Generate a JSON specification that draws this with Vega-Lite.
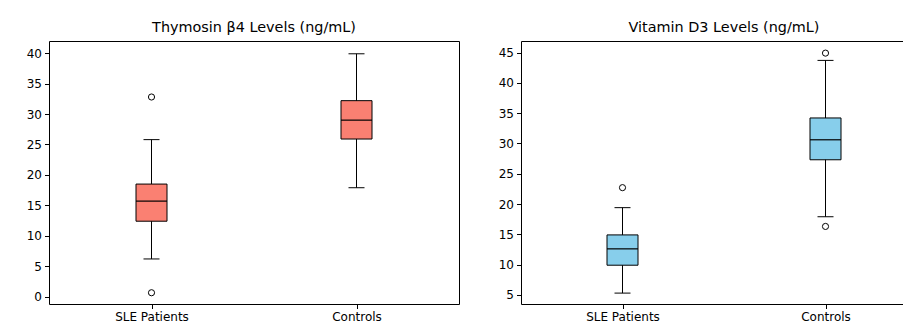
{
  "$schema": "https://vega.github.io/schema/vega-lite/v6.json",
  "background": "white",
  "padding": {"left": 25, "top": 19, "right": 1, "bottom": 1},
  "spacing": 37,
  "datasets": {
    "boxes": [
      {"panel": "Thymosin", "group": "SLE Patients", "lower": 6.2, "q1": 12.4, "median": 15.7, "q3": 18.5, "upper": 25.8},
      {"panel": "Thymosin", "group": "Controls", "lower": 17.9, "q1": 25.9, "median": 29.0, "q3": 32.2, "upper": 39.9},
      {"panel": "VitD", "group": "SLE Patients", "lower": 5.3, "q1": 9.9, "median": 12.6, "q3": 14.9, "upper": 19.4},
      {"panel": "VitD", "group": "Controls", "lower": 17.9, "q1": 27.3, "median": 30.6, "q3": 34.2, "upper": 43.7}
    ],
    "outliers": [
      {"panel": "Thymosin", "group": "SLE Patients", "value": 32.8},
      {"panel": "Thymosin", "group": "SLE Patients", "value": 0.65},
      {"panel": "VitD", "group": "SLE Patients", "value": 22.7},
      {"panel": "VitD", "group": "Controls", "value": 44.9},
      {"panel": "VitD", "group": "Controls", "value": 16.3}
    ]
  },
  "hconcat": [
    {
      "title": "Thymosin β4 Levels (ng/mL)",
      "width": 410,
      "height": 263,
      "encoding": {
        "x": {"field": "group", "type": "nominal", "title": null, "sort": ["SLE Patients", "Controls"],
              "scale": {"type": "point", "padding": 0.5, "domain": ["SLE Patients", "Controls"]},
              "axis": {"labelAngle": 0}}
      },
      "layer": [
        {
          "data": {"name": "boxes"},
          "transform": [{"filter": "datum.panel === 'Thymosin'"}],
          "mark": {"type": "rule", "color": "black", "strokeWidth": 1},
          "encoding": {
            "y": {"field": "lower", "type": "quantitative", "title": null,
                  "scale": {"domain": [-1.2, 42], "nice": false, "zero": false},
                  "axis": {"values": [0, 5, 10, 15, 20, 25, 30, 35, 40], "labelOverlap": false}},
            "y2": {"field": "upper"}
          }
        },
        {
          "data": {"name": "boxes"},
          "transform": [{"filter": "datum.panel === 'Thymosin'"}],
          "mark": {"type": "bar", "width": 31, "fill": "#FA8072", "stroke": "black", "strokeWidth": 1},
          "encoding": {"y": {"field": "q1", "type": "quantitative", "title": null,
                  "scale": {"domain": [-1.2, 42], "nice": false, "zero": false},
                  "axis": {"values": [0, 5, 10, 15, 20, 25, 30, 35, 40], "labelOverlap": false}}, "y2": {"field": "q3"}}
        },
        {
          "data": {"name": "boxes"},
          "transform": [{"filter": "datum.panel === 'Thymosin'"}],
          "mark": {"type": "tick", "size": 31, "thickness": 1.2, "color": "black", "opacity": 1},
          "encoding": {"y": {"field": "median", "type": "quantitative", "title": null,
                  "scale": {"domain": [-1.2, 42], "nice": false, "zero": false},
                  "axis": {"values": [0, 5, 10, 15, 20, 25, 30, 35, 40], "labelOverlap": false}}}
        },
        {
          "data": {"name": "boxes"},
          "transform": [{"filter": "datum.panel === 'Thymosin'"}],
          "mark": {"type": "tick", "size": 16, "thickness": 1, "color": "black", "opacity": 1},
          "encoding": {"y": {"field": "lower", "type": "quantitative", "title": null,
                  "scale": {"domain": [-1.2, 42], "nice": false, "zero": false},
                  "axis": {"values": [0, 5, 10, 15, 20, 25, 30, 35, 40], "labelOverlap": false}}}
        },
        {
          "data": {"name": "boxes"},
          "transform": [{"filter": "datum.panel === 'Thymosin'"}],
          "mark": {"type": "tick", "size": 16, "thickness": 1, "color": "black", "opacity": 1},
          "encoding": {"y": {"field": "upper", "type": "quantitative", "title": null,
                  "scale": {"domain": [-1.2, 42], "nice": false, "zero": false},
                  "axis": {"values": [0, 5, 10, 15, 20, 25, 30, 35, 40], "labelOverlap": false}}}
        },
        {
          "data": {"name": "outliers"},
          "transform": [{"filter": "datum.panel === 'Thymosin'"}],
          "mark": {"type": "point", "shape": "circle", "size": 38, "filled": false, "stroke": "black", "strokeWidth": 1, "opacity": 1},
          "encoding": {"y": {"field": "value", "type": "quantitative", "title": null,
                  "scale": {"domain": [-1.2, 42], "nice": false, "zero": false},
                  "axis": {"values": [0, 5, 10, 15, 20, 25, 30, 35, 40], "labelOverlap": false}}}
        }
      ]
    },
    {
      "title": "Vitamin D3 Levels (ng/mL)",
      "width": 406,
      "height": 263,
      "encoding": {
        "x": {"field": "group", "type": "nominal", "title": null, "sort": ["SLE Patients", "Controls"],
              "scale": {"type": "point", "padding": 0.5, "domain": ["SLE Patients", "Controls"]},
              "axis": {"labelAngle": 0}}
      },
      "layer": [
        {
          "data": {"name": "boxes"},
          "transform": [{"filter": "datum.panel === 'VitD'"}],
          "mark": {"type": "rule", "color": "black", "strokeWidth": 1},
          "encoding": {
            "y": {"field": "lower", "type": "quantitative", "title": null,
                  "scale": {"domain": [3.5, 46.9], "nice": false, "zero": false},
                  "axis": {"values": [5, 10, 15, 20, 25, 30, 35, 40, 45], "labelOverlap": false}},
            "y2": {"field": "upper"}
          }
        },
        {
          "data": {"name": "boxes"},
          "transform": [{"filter": "datum.panel === 'VitD'"}],
          "mark": {"type": "bar", "width": 31, "fill": "#87CEEB", "stroke": "black", "strokeWidth": 1},
          "encoding": {"y": {"field": "q1", "type": "quantitative", "title": null,
                  "scale": {"domain": [3.5, 46.9], "nice": false, "zero": false},
                  "axis": {"values": [5, 10, 15, 20, 25, 30, 35, 40, 45], "labelOverlap": false}}, "y2": {"field": "q3"}}
        },
        {
          "data": {"name": "boxes"},
          "transform": [{"filter": "datum.panel === 'VitD'"}],
          "mark": {"type": "tick", "size": 31, "thickness": 1.2, "color": "black", "opacity": 1},
          "encoding": {"y": {"field": "median", "type": "quantitative", "title": null,
                  "scale": {"domain": [3.5, 46.9], "nice": false, "zero": false},
                  "axis": {"values": [5, 10, 15, 20, 25, 30, 35, 40, 45], "labelOverlap": false}}}
        },
        {
          "data": {"name": "boxes"},
          "transform": [{"filter": "datum.panel === 'VitD'"}],
          "mark": {"type": "tick", "size": 16, "thickness": 1, "color": "black", "opacity": 1},
          "encoding": {"y": {"field": "lower", "type": "quantitative", "title": null,
                  "scale": {"domain": [3.5, 46.9], "nice": false, "zero": false},
                  "axis": {"values": [5, 10, 15, 20, 25, 30, 35, 40, 45], "labelOverlap": false}}}
        },
        {
          "data": {"name": "boxes"},
          "transform": [{"filter": "datum.panel === 'VitD'"}],
          "mark": {"type": "tick", "size": 16, "thickness": 1, "color": "black", "opacity": 1},
          "encoding": {"y": {"field": "upper", "type": "quantitative", "title": null,
                  "scale": {"domain": [3.5, 46.9], "nice": false, "zero": false},
                  "axis": {"values": [5, 10, 15, 20, 25, 30, 35, 40, 45], "labelOverlap": false}}}
        },
        {
          "data": {"name": "outliers"},
          "transform": [{"filter": "datum.panel === 'VitD'"}],
          "mark": {"type": "point", "shape": "circle", "size": 38, "filled": false, "stroke": "black", "strokeWidth": 1, "opacity": 1},
          "encoding": {"y": {"field": "value", "type": "quantitative", "title": null,
                  "scale": {"domain": [3.5, 46.9], "nice": false, "zero": false},
                  "axis": {"values": [5, 10, 15, 20, 25, 30, 35, 40, 45], "labelOverlap": false}}}
        }
      ]
    }
  ],
  "config": {
    "font": "DejaVu Sans",
    "view": {"stroke": "black", "strokeWidth": 1},
    "axis": {
      "labelFont": "DejaVu Sans",
      "labelFontSize": 12,
      "labelColor": "black",
      "tickColor": "black",
      "tickSize": 4.5,
      "labelPadding": 3,
      "labelOverlap": false,
      "grid": false,
      "domain": false
    },
    "title": {
      "font": "DejaVu Sans",
      "fontSize": 14.4,
      "fontWeight": "normal",
      "color": "black",
      "offset": 6,
      "anchor": "middle"
    }
  }
}
